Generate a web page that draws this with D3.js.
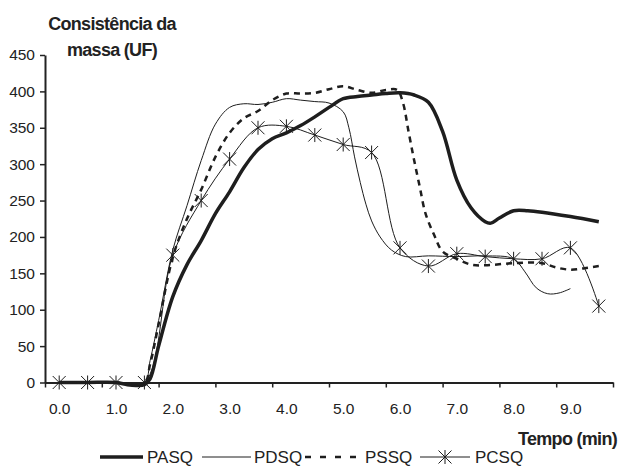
<!DOCTYPE html>
<html>
<head>
<meta charset="utf-8">
<script src="https://cdn.jsdelivr.net/npm/d3@7/dist/d3.min.js"></script>
<style>
body { margin:0; background:#ffffff; }
text { font-family: "Liberation Sans", Arial, sans-serif; fill:#222222; }
</style>
</head>
<body>
<div id="chart"></div>
<script>
var yTicks = [0,50,100,150,200,250,300,350,400,450];
var xLabels = [0,1,2,3,4,5,6,7,8,9];
var xTickMarks = [-0.25,0.75,1.75,2.75,3.75,4.75,5.75,6.75,7.75,8.75,9.75];
var seriesNames = ["PASQ","PDSQ","PSSQ","PCSQ"];

var pasqTime  = [0,0.5,1.0,1.2,1.35,1.5,1.6,1.75,2.0,2.25,2.5,2.75,3.0,3.25,3.5,3.75,4.0,4.25,4.5,4.75,5.0,5.25,5.5,5.75,6.0,6.25,6.5,6.75,7.0,7.25,7.5,7.6,7.75,8.0,8.25,8.5,9.0,9.5];
var pasqValue = [0,0,0,-3,-4,-3,5,50,118,162,195,232,262,295,320,335,343,353,365,378,390,393,395,397,398,395,385,345,278,240,221,219,226,236,236,234,228,221];

var pdsqTime  = [0,0.5,1.0,1.5,1.6,1.75,2.0,2.25,2.5,2.75,3.0,3.25,3.5,3.75,4.0,4.25,4.5,4.75,5.0,5.1,5.2,5.3,5.4,5.5,5.65,5.85,6.1,6.5,7.0,7.5,8.0,8.2,8.4,8.6,8.8,9.0];
var pdsqValue = [0,0,0,0,30,85,182,243,305,355,378,383,382,385,390,388,386,384,372,350,310,275,245,222,200,182,173,174,173,174,170,152,130,122,123,129];

var pssqTime  = [0,0.5,1.0,1.5,1.6,1.75,2.0,2.25,2.5,2.75,3.0,3.25,3.5,3.75,4.0,4.25,4.5,4.75,5.0,5.25,5.5,5.75,5.95,6.05,6.15,6.25,6.35,6.45,6.6,6.75,7.0,7.25,7.5,8.0,8.5,8.75,9.0,9.25,9.5];
var pssqValue = [0,0,0,0,25,80,172,225,265,310,343,363,373,388,397,397,398,403,407,402,398,402,402,385,345,305,268,232,203,180,170,162,161,164,164,158,155,157,160];

var pcsqTime  = [0,0.5,1.0,1.5,2.0,2.5,3.0,3.5,4.0,4.5,5.0,5.5,6.0,6.5,7.0,7.5,8.0,8.5,9.0,9.5];
var pcsqValue = [0,0,0,0,175,250,307,350,352,340,327,316,185,160,177,173,170,170,185,105];

var width = 621, height = 468;

var svg = d3.select("#chart")
	.append("svg")
	.attr("width", width)
	.attr("height", height);

var x = d3.scaleLinear().domain([-0.25, 9.75]).range([45, 613]);
var y = d3.scaleLinear().domain([0, 450]).range([382.5, 55]);

// y axis
var yAxis = svg.append("g")
	.attr("transform","translate("+x(-0.25)+",0)")
	.call(d3.axisLeft(y).tickValues(yTicks).tickSize(5).tickSizeOuter(0).tickPadding(5));
yAxis.select(".domain").attr("stroke","#222").attr("stroke-width",2);
yAxis.selectAll(".tick line").attr("stroke","#222").attr("stroke-width",1.5);
yAxis.selectAll(".tick text").style("font-size","15.5px").attr("fill","#222");

// x axis marks (between the labels)
var xAxis = svg.append("g")
	.attr("transform","translate(0,"+y(0)+")")
	.call(d3.axisBottom(x).tickValues(xTickMarks).tickSize(5).tickSizeOuter(0).tickFormat(""));
xAxis.select(".domain").attr("stroke","#222").attr("stroke-width",2);
xAxis.selectAll(".tick line").attr("stroke","#222").attr("stroke-width",1.5);

var xLabelAxis = svg.append("g")
	.attr("transform","translate(0,"+y(0)+")")
	.call(d3.axisBottom(x).tickValues(xLabels).tickSize(0).tickPadding(20).tickFormat(d3.format(".1f")));
xLabelAxis.select(".domain").remove();
xLabelAxis.selectAll(".tick text").style("font-size","15.5px").attr("fill","#222");

// titles
var yTitle = svg.append("text")
	.attr("text-anchor","middle")
	.style("font-size","18px")
	.style("font-weight","bold")
	.style("letter-spacing","-0.7px");
yTitle.append("tspan").attr("x",112).attr("y",30).text("Consistência da");
yTitle.append("tspan").attr("x",112).attr("y",56).text("massa (UF)");

svg.append("text")
	.attr("x",617)
	.attr("y",445)
	.attr("text-anchor","end")
	.style("font-size","18px")
	.style("font-weight","bold")
	.style("letter-spacing","-0.7px")
	.text("Tempo (min)");

// lines
var styles = [
	{width:3.5, dash:null},
	{width:1, dash:null},
	{width:2.5, dash:"6,5"},
	{width:1, dash:null}
];
var times = [pasqTime, pdsqTime, pssqTime, pcsqTime];
var values = [pasqValue, pdsqValue, pssqValue, pcsqValue];

var line = d3.line()
	.x(function(d){ return x(d[0]); })
	.y(function(d){ return y(d[1]); })
	.curve(d3.curveCatmullRom.alpha(0.5));

var starPath = "M-6.5,-6.5L6.5,6.5M-6.5,6.5L6.5,-6.5M0,-7L0,7";

for (var i = 0; i < seriesNames.length; i++) {
	var pts = d3.zip(times[i], values[i]);
	svg.append("path")
		.datum(pts)
		.attr("d", line)
		.attr("fill","none")
		.attr("stroke","#1e1e1e")
		.attr("stroke-width", styles[i].width)
		.attr("stroke-dasharray", styles[i].dash)
		.attr("stroke-linejoin","round");
}

svg.append("g").selectAll("path")
	.data(d3.zip(pcsqTime, pcsqValue))
	.enter()
	.append("path")
	.attr("d", starPath)
	.attr("transform", function(d){ return "translate("+x(d[0])+","+y(d[1])+")"; })
	.attr("fill","none")
	.attr("stroke","#1e1e1e")
	.attr("stroke-width",1);

// legend
var legendLineX = [100, 202, 305, 420];
var legendLineW = [43, 49, 52, 50];
var legendTextX = [147, 254, 365, 475];
var legend = svg.append("g").attr("transform","translate(0,457)");
for (var k = 0; k < seriesNames.length; k++) {
	legend.append("line")
		.attr("x1", legendLineX[k])
		.attr("x2", legendLineX[k] + legendLineW[k])
		.attr("y1", 0)
		.attr("y2", 0)
		.attr("stroke","#1e1e1e")
		.attr("stroke-width", styles[k].width)
		.attr("stroke-dasharray", k == 2 ? "6,9" : null);
	legend.append("text")
		.attr("x", legendTextX[k])
		.attr("y", 6)
		.style("font-size","17px")
		.text(seriesNames[k]);
}
legend.append("path")
	.attr("d", starPath)
	.attr("transform","translate(445,0)")
	.attr("fill","none")
	.attr("stroke","#1e1e1e")
	.attr("stroke-width",1);
</script>
</body>
</html>
